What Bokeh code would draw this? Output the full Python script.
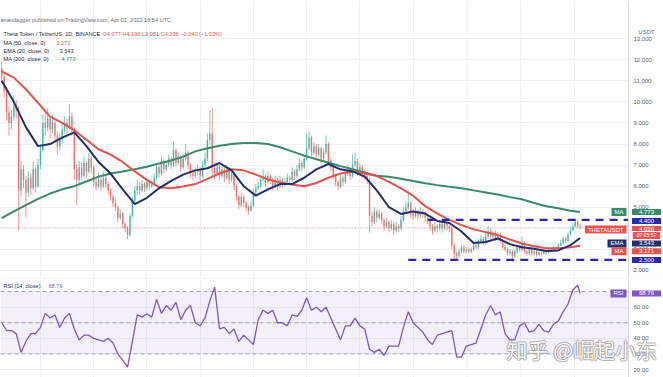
from bokeh.plotting import figure
from bokeh.models import Range1d, FixedTicker, Grid, Span, BoxAnnotation, Label, ColumnDataSource
from bokeh.layouts import column
from bokeh.embed import file_html
from bokeh.resources import INLINE
from bokeh.core.properties import value

# ---------------- data ----------------
first_open = 11.6
close = [
    11.2, 10.5, 9.5, 9.0, 9.3, 9.8, 9.6, 5.8, 6.8, 6.3,
    5.7, 6.4, 5.9, 6.8, 6.0, 7.0, 7.7, 9.0, 8.8, 9.2,
    8.7, 9.0, 8.4, 7.9, 8.3, 8.7, 9.0, 8.8, 9.3, 8.7,
    6.8, 6.3, 6.9, 6.5, 7.1, 6.7, 7.3, 6.9, 6.2, 6.0,
    6.3, 6.0, 6.4, 6.1, 5.8, 5.5, 5.2, 5.0, 4.5, 4.7,
    4.2, 4.0, 3.7, 4.6, 5.3, 5.8, 6.0, 5.8, 6.1, 5.9,
    6.2, 6.0, 6.1, 6.4, 6.9, 6.6, 7.2, 6.8, 7.0, 7.3,
    7.0, 7.7, 7.1, 7.4, 6.9, 7.3, 7.6, 7.0, 6.6, 6.5,
    6.7, 6.8, 6.5, 7.0, 7.3, 8.2, 8.5, 6.9, 6.6, 6.9,
    6.5, 6.8, 6.4, 6.8, 6.3, 6.6, 6.0, 5.5, 5.1, 5.5,
    5.2, 5.0, 4.85, 5.1, 5.7, 5.9, 6.0, 6.3, 6.5, 6.2,
    6.5, 6.3, 6.0, 6.3, 6.0, 6.3, 6.1, 6.2, 6.4, 6.3,
    6.7, 6.5, 6.8, 7.1, 6.9, 7.3, 7.8, 8.3, 7.6, 7.9,
    7.5, 7.8, 7.3, 7.6, 8.0, 7.2, 6.9, 6.5, 6.2, 6.0,
    6.4, 6.2, 6.6, 6.8, 6.5, 7.0, 7.2, 6.7, 6.9, 6.6,
    6.5, 6.3, 4.6, 4.3, 4.8, 4.5, 4.7, 4.4, 4.1, 4.3,
    4.0, 4.2, 3.9, 4.1, 4.0, 4.4, 4.8, 5.0, 5.2, 4.7,
    4.6, 4.8, 4.6, 4.8, 4.7, 4.5, 4.4, 4.1, 3.9, 4.1,
    4.0, 4.2, 4.0, 4.2, 4.1, 4.0, 3.2, 2.8, 2.7, 2.9,
    3.1, 2.9, 3.0, 2.9, 3.0, 3.2, 3.1, 3.4, 3.5, 3.3,
    3.6, 3.9, 3.6, 3.8, 3.5, 3.7, 3.4, 3.1, 3.0, 2.8,
    2.9, 2.7, 2.9, 3.1, 3.0, 3.3, 2.9, 2.8, 3.0, 2.8,
    2.9, 2.75, 2.85, 2.8, 2.9, 2.85, 3.0, 2.95, 3.1, 3.0,
    3.2, 3.3, 3.5, 3.4, 3.7, 3.9, 4.1, 4.3, 4.077, 4.036,
]
high = [
    11.9, 11.4, 10.7, 9.8, 9.6, 10.3, 10.1, 9.8, 7.2, 7.0,
    6.5, 6.7, 6.6, 7.2, 6.9, 7.3, 8.0, 9.4, 9.5, 9.7,
    9.3, 9.4, 9.1, 8.6, 8.5, 9.0, 9.3, 9.2, 9.9, 9.5,
    8.8, 7.0, 7.2, 7.1, 7.4, 7.2, 7.6, 7.4, 7.0, 6.4,
    6.6, 6.4, 6.7, 6.5, 6.2, 5.9, 5.6, 5.4, 5.1, 4.9,
    4.8, 4.3, 4.1, 4.7, 5.5, 6.0, 6.3, 6.2, 6.3, 6.2,
    6.4, 6.3, 6.3, 6.6, 7.1, 7.0, 7.4, 7.3, 7.2, 7.5,
    7.4, 8.1, 7.8, 7.6, 7.5, 7.5, 8.0, 7.7, 7.1, 6.8,
    6.9, 7.0, 6.9, 7.2, 7.6, 8.5, 9.6, 9.7, 7.1, 7.1,
    7.0, 7.0, 6.9, 7.0, 6.9, 6.8, 6.7, 6.1, 5.6, 5.7,
    5.6, 5.3, 5.1, 5.3, 5.9, 6.1, 6.2, 6.5, 6.8, 6.6,
    6.7, 6.6, 6.4, 6.5, 6.4, 6.5, 6.4, 6.4, 6.6, 6.5,
    6.9, 6.8, 7.0, 7.3, 7.2, 7.5, 8.5, 8.6, 8.4, 8.1,
    8.0, 8.0, 7.9, 7.8, 8.4, 8.1, 7.3, 7.0, 6.6, 6.3,
    6.6, 6.5, 6.8, 7.0, 6.9, 7.5, 7.6, 7.3, 7.1, 7.0,
    6.8, 6.6, 6.4, 4.8, 5.0, 4.9, 4.9, 4.8, 4.5, 4.5,
    4.4, 4.4, 4.3, 4.3, 4.2, 4.6, 5.0, 5.3, 5.8, 5.3,
    4.9, 5.0, 4.9, 5.0, 4.9, 4.8, 4.6, 4.5, 4.2, 4.3,
    4.2, 4.4, 4.3, 4.4, 4.3, 4.2, 4.1, 3.3, 2.9, 3.0,
    3.2, 3.2, 3.1, 3.1, 3.1, 3.3, 3.3, 3.5, 3.7, 3.6,
    3.8, 4.1, 4.0, 3.9, 3.9, 3.8, 3.8, 3.5, 3.2, 3.1,
    3.0, 3.0, 3.0, 3.2, 3.2, 3.6, 3.4, 3.0, 3.1, 3.1,
    3.0, 3.0, 2.95, 2.95, 3.0, 2.95, 3.1, 3.05, 3.2, 3.15,
    3.3, 3.45, 3.6, 3.6, 3.8, 4.05, 4.25, 4.45, 4.4, 4.19,
]
low = [
    10.9, 10.2, 9.1, 8.4, 8.7, 9.1, 9.2, 3.9, 5.5, 5.9,
    4.5, 5.5, 5.6, 5.8, 5.7, 5.9, 6.8, 7.6, 8.4, 8.6,
    8.3, 8.5, 8.1, 7.5, 7.7, 8.1, 8.5, 8.5, 8.7, 8.4,
    6.3, 5.1, 6.1, 6.3, 6.4, 6.4, 6.6, 6.6, 6.0, 5.8,
    5.9, 5.8, 5.9, 5.9, 5.6, 5.3, 5.0, 4.8, 4.3, 4.4,
    4.0, 3.8, 3.5, 3.6, 4.5, 5.2, 5.6, 5.6, 5.7, 5.7,
    5.8, 5.8, 5.9, 6.0, 6.3, 6.4, 6.5, 6.6, 6.7, 6.9,
    6.8, 6.9, 6.9, 7.0, 6.7, 6.8, 7.2, 6.8, 6.4, 6.3,
    6.4, 6.5, 6.3, 6.4, 6.9, 7.2, 8.0, 6.4, 6.3, 6.5,
    6.3, 6.4, 6.2, 6.3, 6.1, 6.2, 5.8, 5.3, 4.9, 5.0,
    5.0, 4.8, 4.65, 4.8, 5.0, 5.6, 5.8, 5.9, 6.2, 6.0,
    6.1, 6.1, 5.8, 5.9, 5.8, 5.9, 5.9, 6.0, 6.1, 6.1,
    6.2, 6.3, 6.4, 6.7, 6.7, 6.8, 7.2, 7.7, 7.4, 7.5,
    7.3, 7.4, 7.1, 7.2, 7.5, 7.0, 6.7, 6.3, 6.0, 5.8,
    5.9, 6.0, 6.1, 6.5, 6.3, 6.4, 6.9, 6.5, 6.6, 6.4,
    6.3, 6.1, 3.8, 4.1, 4.2, 4.3, 4.4, 4.2, 3.9, 4.0,
    3.8, 3.9, 3.7, 3.8, 3.8, 3.9, 4.3, 4.7, 4.9, 4.5,
    4.4, 4.5, 4.4, 4.5, 4.5, 4.3, 4.2, 3.9, 3.7, 3.8,
    3.8, 3.9, 3.8, 3.9, 3.9, 3.8, 3.0, 2.5, 2.5, 2.6,
    2.8, 2.8, 2.8, 2.8, 2.8, 2.9, 3.0, 3.0, 3.3, 3.2,
    3.2, 3.5, 3.5, 3.5, 3.4, 3.4, 3.3, 3.0, 2.9, 2.7,
    2.7, 2.4, 2.6, 2.8, 2.9, 2.9, 2.8, 2.7, 2.7, 2.7,
    2.7, 2.65, 2.7, 2.7, 2.75, 2.75, 2.8, 2.85, 2.9, 2.9,
    2.95, 3.15, 3.25, 3.3, 3.35, 3.65, 3.85, 4.05, 4.0, 3.951,
]
# moving averages, one value every 5 candles (+ last candle)
ema20 = [11.0, 10.0, 8.8, 7.9, 8.0, 8.3, 8.55, 7.9, 7.15, 6.6,
         5.85, 5.15, 5.45, 5.9, 6.25, 6.55, 6.75, 6.85, 7.1, 6.75,
         6.0, 5.55, 5.85, 6.1, 6.1, 6.4, 6.8, 7.05, 6.8, 6.7,
         6.45, 5.8, 5.0, 4.68, 4.8, 4.7, 4.35, 4.25, 3.85, 3.3,
         3.35, 3.52, 3.25, 3.1, 3.03, 2.92, 2.95, 3.2, 3.543]
ma50 = [11.45, 11.15, 10.6, 9.95, 9.3, 9.0, 8.65, 8.2, 7.75, 7.5,
        7.15, 6.7, 6.3, 5.95, 5.9, 5.98, 6.1, 6.35, 6.6, 6.8,
        6.75, 6.55, 6.32, 6.18, 6.08, 6.0, 6.15, 6.4, 6.6, 6.7,
        6.6, 6.48, 6.2, 5.9, 5.55, 5.05, 4.7, 4.4, 4.15, 3.95,
        3.82, 3.68, 3.47, 3.28, 3.15, 3.05, 3.05, 3.1, 3.171]
ma200 = [4.48, 4.8, 5.1, 5.4, 5.65, 5.85, 6.0, 6.22, 6.45, 6.6,
         6.7, 6.8, 6.92, 7.08, 7.22, 7.4, 7.65, 7.8, 7.92, 8.0,
         8.05, 8.05, 8.0, 7.85, 7.65, 7.45, 7.28, 7.12, 6.95, 6.8,
         6.65, 6.5, 6.45, 6.35, 6.25, 6.14, 6.05, 5.97, 5.9, 5.8,
         5.7, 5.6, 5.48, 5.38, 5.2, 5.05, 4.95, 4.83, 4.773]
# RSI(14), one value every 2 candles (+ last candle)
rsi = [50, 45, 45, 43, 31, 38, 43, 43, 47, 56,
       53, 55, 47, 53, 56, 46, 39, 42, 42, 40,
       39, 38, 40, 37, 30, 26, 21.5, 38, 55, 53.6,
       55.7, 53.6, 65, 56, 61, 58, 63, 52, 58, 61,
       50, 48, 53, 64, 72.8, 46, 47, 43, 46, 38,
       42, 39, 36, 52, 58, 56, 58, 50, 50, 48,
       55, 54, 58, 66, 58, 60, 57, 60, 53, 46,
       39, 48, 48, 53, 48, 46, 33, 31, 33, 29,
       35, 35, 35, 47, 57, 50, 47, 44, 39, 36,
       42, 43, 44, 45, 28, 28, 35, 36, 37, 46,
       55, 61, 55, 57, 43, 39, 39, 48, 50, 44,
       45, 49, 45, 44, 49, 51, 57, 62, 71, 74,
       68.76]
levels = [4.4, 2.5]            # horizontal resistance / support
level_start = [176, 168]       # candle where each level line starts
price_ticks = [2, 3, 4, 5, 6, 7, 8, 9, 10, 11, 12, 13]
rsi_ticks = [20, 30, 40, 50, 60]
rsi_bands = [70, 50, 30]
month_ticks = [16, 38, 60, 82, 104, 126, 148, 170, 192.5, 214.5, 236.5]

# ---------------- styling ----------------
FONT = "Liberation Sans"
UP, DOWN = "#26a69a", "#ef5350"
C_MA200, C_MA50, C_EMA = "#3a8a6a", "#e4544c", "#23306e"
C_LVL, C_RSI = "#2a2aa8", "#7e57c2"
C_SEP = "#d9dbe0"
W = 663
X_END = 259.0                      # right edge of the plotting area (price scale starts here)
PPU = 628 / (X_END + 0.5)          # pixels per candle
X_MAX = X_END + 35 / PPU           # include the price-scale strip

N = len(close)
opens = [first_open] + close[:-1]
cols = [UP if c >= o else DOWN for o, c in zip(opens, close)]
src = ColumnDataSource(dict(
    x=list(range(N)), top=[max(o, c) for o, c in zip(opens, close)],
    bottom=[min(o, c) for o, c in zip(opens, close)], high=high, low=low, color=cols))
ma_x = list(range(0, N, 5)) + [N - 1]
rsi_x = list(range(0, N, 2)) + [N - 1]


def lab(fig, text, x, y, color, size="5.6px", xu="screen", yu="screen", align="left",
        bg=None, pad=(0, 0, 0, 0), y_offset=0, font=FONT, alpha=1.0, x_offset=0):
    l = Label(x=x, y=y, x_units=xu, y_units=yu, text=text, text_color=color,
              text_font_size=size, text_align=align, text_baseline="middle",
              text_font=font, y_offset=y_offset, x_offset=x_offset, text_alpha=alpha)
    if bg is not None:
        l.background_fill_color = bg
        l.padding = dict(left=pad[0], right=pad[1], top=pad[2], bottom=pad[3])
    fig.add_layout(l)
    return l


def base(fig, ticks, fmt, yr):
    for g in fig.grid:
        g.visible = False
    fig.add_layout(Grid(dimension=0, ticker=FixedTicker(ticks=month_ticks),
                        grid_line_color="#eef0f4", grid_line_width=1))
    fig.add_layout(Grid(dimension=1, ticker=FixedTicker(ticks=ticks),
                        grid_line_color="#eef0f4", grid_line_width=1))
    fig.outline_line_color = None
    fig.background_fill_color = "white"


def price_scale(fig, ticks, fmt, yr):
    # white strip for the price scale, its border and tick labels
    fig.quad(left=[X_END], right=[X_MAX + 5], bottom=[yr.start - 50], top=[yr.end + 50],
             fill_color="white", line_color=None)
    fig.add_layout(Span(location=X_END, dimension="height", line_color=C_SEP, line_width=1))
    fig.text(x=[X_END] * len(ticks), y=ticks, text=[fmt.format(t) for t in ticks],
             x_offset=5, text_baseline="middle", text_align="left",
             text_font=value(FONT), text_font_size=value("6px"), text_color="#5d606b")


# ---------------- price pane ----------------
yr_p = Range1d(1.619, 14.81)
p = figure(width=W, height=279, x_range=Range1d(-0.5, X_MAX), y_range=yr_p,
           x_axis_location=None, y_axis_location=None, toolbar_location=None,
           output_backend="svg", min_border_left=0, min_border_top=0,
           min_border_bottom=1, min_border_right=0, border_fill_color=C_SEP)
base(p, price_ticks, "{:.3f}", yr_p)

p.segment(x0=[-0.5], y0=[close[-1]], x1=[X_END], y1=[close[-1]], line_color=DOWN,
          line_alpha=0.55, line_width=1, line_dash="1 2")
p.segment(x0="x", y0="low", x1="x", y1="high", line_color="color", line_alpha=0.62,
          line_width=1, source=src)
p.vbar(x="x", width=0.62, top="top", bottom="bottom", fill_color="color",
       fill_alpha=0.65, line_color=None, source=src)
p.line(ma_x, ma200, line_color=C_MA200, line_width=2)
p.line(ma_x, ma50, line_color=C_MA50, line_width=2)
p.line(ma_x, ema20, line_color=C_EMA, line_width=2)
p.segment(x0=level_start, y0=levels, x1=[X_END] * 2, y1=levels, line_color=C_LVL,
          line_width=2.2, line_dash="8 6")
price_scale(p, price_ticks, "{:.3f}", yr_p)

# header texts
H = 278
lab(p, "anandagger published on TradingView.com, Apr 01, 2022 16:54 UTC", 0, H - 19, "#6a6d78")
lab(p, "Theta Token / TetherUS, 1D, BINANCE", 3, H - 33, "#2a2e39")
lab(p, "O4.077  H4.190  L3.951  C4.036  \u22120.040 (\u22121.03%)", 102, H - 33, DOWN)
lab(p, "MA (50, close, 0)", 3, H - 42, "#2a2e39")
lab(p, "3.171", 56, H - 42, C_MA50)
lab(p, "EMA (20, close, 0)", 3, H - 50, "#2a2e39")
lab(p, "3.543", 59, H - 50, C_EMA)
lab(p, "MA (200, close, 0)", 3, H - 58, "#2a2e39")
lab(p, "4.773", 61, H - 58, C_MA200)
lab(p, "USDT", 646, H - 31, "#6a6d78", size="6px", align="center")

# price tags
TP = (7, 7, 1, 1)
SP = (3, 3, 1, 1)
TS = "6px"
lab(p, "4.773", 646, ma200[-1], "white", size=TS, yu="data", align="center", bg=C_MA200, pad=TP)
lab(p, "MA", 626, ma200[-1], "white", size=TS, yu="data", align="right", bg=C_MA200, pad=SP)
lab(p, "4.400", 646, levels[0], "white", size=TS, yu="data", align="center", bg=C_LVL, pad=TP, y_offset=-1)
lab(p, "4.036", 646, close[-1], "white", size=TS, yu="data", align="center", bg=DOWN, pad=(7, 7, 1, 0), y_offset=-1)
lab(p, "07:05:57", 646, close[-1], "white", size="5px", yu="data", align="center", bg=DOWN, pad=(4, 4, 0, 1), y_offset=-8)
lab(p, "THETAUSDT", 626, close[-1], "white", size=TS, yu="data", align="right", bg=DOWN, pad=SP, y_offset=-2)
lab(p, "3.543", 646, ema20[-1], "white", size=TS, yu="data", align="center", bg=C_EMA, pad=TP, y_offset=-5.5)
lab(p, "EMA", 626, ema20[-1], "white", size=TS, yu="data", align="right", bg=C_EMA, pad=SP, y_offset=-5.5)
lab(p, "3.171", 646, ma50[-1], "white", size=TS, yu="data", align="center", bg=C_MA50, pad=TP, y_offset=-5.5)
lab(p, "MA", 626, ma50[-1], "white", size=TS, yu="data", align="right", bg=C_MA50, pad=SP, y_offset=-5.5)
lab(p, "2.500", 646, levels[1], "white", size=TS, yu="data", align="center", bg=C_LVL, pad=TP)

# ---------------- RSI pane ----------------
yr_r = Range1d(14.9, 77.7)
r = figure(width=W, height=98, x_range=p.x_range, y_range=yr_r,
           x_axis_location=None, y_axis_location=None, toolbar_location=None,
           output_backend="svg", min_border_left=0, min_border_top=0,
           min_border_bottom=0, min_border_right=0)
base(r, rsi_ticks, "{:.2f}", yr_r)
r.add_layout(BoxAnnotation(bottom=rsi_bands[2], top=rsi_bands[0], right=X_END,
                           fill_color=C_RSI, fill_alpha=0.09, line_color=None,
                           level="underlay"))
r.segment(x0=[-0.5] * 3, y0=rsi_bands, x1=[X_END] * 3, y1=rsi_bands,
          line_color="#a3a6af", line_width=1, line_dash="4 3")
r.line(rsi_x, rsi, line_color=C_RSI, line_width=1.3)
price_scale(r, rsi_ticks, "{:.2f}", yr_r)

lab(r, "RSI (14, close)", 3, 98 - 6, "#2a2e39")
lab(r, "68.76", 48, 98 - 6, C_RSI)
lab(r, "68.76", 646, rsi[-1], "white", size=TS, yu="data", align="center", bg=C_RSI, pad=TP)
lab(r, "RSI", 626, rsi[-1], "white", size=TS, yu="data", align="right", bg=C_RSI, pad=SP)

# watermark (outlined light text)
WM = "\u77e5\u4e4e @\u5d1b\u8d77\u5c0f\u4e1c"
for dx, dy in [(-1, 0), (1, 0), (0, -1), (0, 1)]:
    lab(r, WM, 506, 29, "#9a9a9a", size="21px", font="Noto Sans CJK SC",
        alpha=0.75, x_offset=dx, y_offset=dy)
lab(r, WM, 506, 29, "white", size="21px", font="Noto Sans CJK SC", alpha=0.95)

layout = column(p, r, spacing=0)
open("out.html", "w").write(file_html(layout, INLINE))
